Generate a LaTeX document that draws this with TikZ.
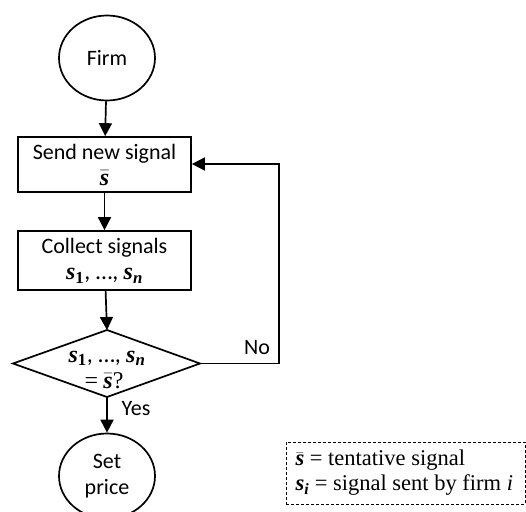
\documentclass[tikz,border=0pt]{standalone}
\usepackage{fontspec}
\usepackage{amsmath}
\setmainfont{Carlito}
\newfontfamily\tms{Liberation Serif}
\usetikzlibrary{shapes.geometric,arrows.meta}
\newcommand{\sv}{\text{\tms\bfseries\itshape s}}
\newcommand{\sbr}{$\bar{\sv}$}
\newcommand{\sn}[1]{$\sv_{\text{\tms\bfseries\itshape #1}}$}
\newcommand{\snb}[1]{$\sv_{\text{\tms\bfseries #1}}$}
\begin{document}
\begin{tikzpicture}[x=1pt,y=1pt,
  lw/.style={line width=1.7pt},
  term/.style={draw,lw,ellipse,minimum width=96pt,minimum height=85pt,inner sep=0pt,font=\fontsize{22}{26}\selectfont,align=center},
  proc/.style={draw,lw,rectangle,minimum width=173pt,inner sep=0pt,font=\fontsize{22}{25}\selectfont,align=center},
  arr/.style={lw,-{Triangle[length=13pt,width=13pt]}},
  lbl/.style={font=\fontsize{22}{24}\selectfont},
  dtxt/.style={anchor=base,inner sep=0pt,font=\fontsize{24}{24}\selectfont}]
\useasboundingbox (0,0) rectangle (526,-511);
\node[term] (firm) at (107,-58) {Firm};
\node[proc,minimum height=55pt] (send) at (104.5,-164.5) {Send new signal\\[1pt]{\fontsize{24}{24}\selectfont\sbr}};
\node[proc,minimum height=59pt] (coll) at (104.5,-260.5) {Collect signals\\[1pt]{\fontsize{24}{24}\selectfont\snb{1}, \dots, \sn{n}}};
\coordinate (dt) at (107,-330);
\coordinate (dr) at (200,-363.5);
\coordinate (db) at (107,-397);
\coordinate (dl) at (13,-363.5);
\draw[lw,line join=miter] (dt) -- (dr) -- (db) -- (dl) -- cycle;
\node[dtxt] (dec1) at (107,-362) {\snb{1}, \dots, \sn{n}};
\node[dtxt] (dec2) at (104,-388) {{\tms=} \sbr{\tms?}};
\node[term] (price) at (107,-476) {Set\\price};
\coordinate (cr) at (279,-363.5);
\coordinate (ct) at (279,-164);
\draw[arr] (firm) -- (send);
\draw[arr] (send) -- (coll);
\draw[arr] (coll) -- (dt);
\draw[arr] (db) -- (price);
\draw[arr] (dr) -- (cr) -- (ct) -- (send.east |- ct);
\node[lbl] (no) at (257,-348) {No};
\node[lbl] (yes) at (136,-409) {Yes};
\node[draw,densely dashed,line width=0.6pt,minimum width=239pt,minimum height=62pt,inner sep=0pt] (leg) at (405.5,-473) {};
\node[anchor=west,align=left,font=\tms\fontsize{22.5}{25}\selectfont] (legt) at (292,-473) {\sbr{} = tentative signal\\\sn{i} = signal sent by firm \textit{i}};
\end{tikzpicture}
\end{document}
